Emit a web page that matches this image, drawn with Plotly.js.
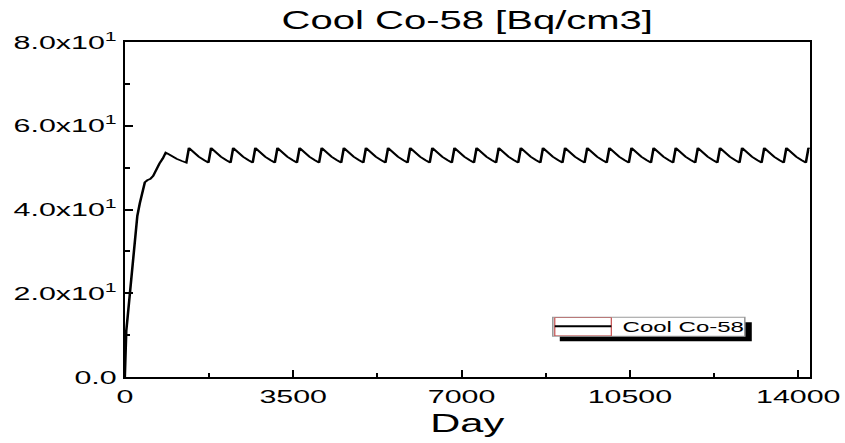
<!DOCTYPE html>
<html>
<head>
<meta charset="utf-8">
<script src="https://cdn.plot.ly/plotly-3.0.1.min.js"></script>
<style>
  html, body { margin: 0; padding: 0; background: #ffffff; overflow: hidden; }
  #wrap { width: 528px; height: 443px; transform: scaleX(1.6004); transform-origin: 0 0; }
  #chart { width: 528px; height: 443px; }
</style>
</head>
<body>
<div id="wrap"><div id="chart"></div></div>
<script>
// ---- data ----
const seriesName = "Cool Co-58";
const chartTitle = "Cool Co-58 [Bq/cm3]";
const xTitle = "Day";

const days = [
  0, 10, 30, 60, 104, 150, 208, 260, 312, 370, 416, 470, 530, 589, 650, 720, 790, 850, 900, 980, 1080, 1180,
  1278, 1333, 1428, 1538, 1648,
  1738, 1793, 1888, 1998, 2108,
  2198, 2253, 2348, 2458, 2568,
  2658, 2713, 2808, 2918, 3028,
  3118, 3173, 3268, 3378, 3488,
  3578, 3633, 3728, 3838, 3948,
  4038, 4093, 4188, 4298, 4408,
  4498, 4553, 4648, 4758, 4868,
  4958, 5013, 5108, 5218, 5328,
  5418, 5473, 5568, 5678, 5788,
  5878, 5933, 6028, 6138, 6248,
  6338, 6393, 6488, 6598, 6708,
  6798, 6853, 6948, 7058, 7168,
  7258, 7313, 7408, 7518, 7628,
  7718, 7773, 7868, 7978, 8088,
  8178, 8233, 8328, 8438, 8548,
  8638, 8693, 8788, 8898, 9008,
  9098, 9153, 9248, 9358, 9468,
  9558, 9613, 9708, 9818, 9928,
  10018, 10073, 10168, 10278, 10388,
  10478, 10533, 10628, 10738, 10848,
  10938, 10993, 11088, 11198, 11308,
  11398, 11453, 11548, 11658, 11768,
  11858, 11913, 12008, 12118, 12228,
  12318, 12373, 12468, 12578, 12688,
  12778, 12833, 12928, 13038, 13148,
  13238, 13293, 13388, 13498, 13608,
  13698, 13753, 13848, 13958, 14068,
  14158, 14213, 14240
];

const activity = [
  0, 7, 11, 14.5, 20, 26.5, 34.5, 38.5, 41.5, 44.5, 46.5, 47, 47.3, 48, 49.5, 51, 52.2, 53.6, 53.3, 52.7, 52.1, 51.6,
  51.2, 54.7, 53.6, 52.6, 51.8,
  51.2, 54.7, 53.6, 52.6, 51.8,
  51.2, 54.7, 53.6, 52.6, 51.8,
  51.2, 54.7, 53.6, 52.6, 51.8,
  51.2, 54.7, 53.6, 52.6, 51.8,
  51.2, 54.7, 53.6, 52.6, 51.8,
  51.2, 54.7, 53.6, 52.6, 51.8,
  51.2, 54.7, 53.6, 52.6, 51.8,
  51.2, 54.7, 53.6, 52.6, 51.8,
  51.2, 54.7, 53.6, 52.6, 51.8,
  51.2, 54.7, 53.6, 52.6, 51.8,
  51.2, 54.7, 53.6, 52.6, 51.8,
  51.2, 54.7, 53.6, 52.6, 51.8,
  51.2, 54.7, 53.6, 52.6, 51.8,
  51.2, 54.7, 53.6, 52.6, 51.8,
  51.2, 54.7, 53.6, 52.6, 51.8,
  51.2, 54.7, 53.6, 52.6, 51.8,
  51.2, 54.7, 53.6, 52.6, 51.8,
  51.2, 54.7, 53.6, 52.6, 51.8,
  51.2, 54.7, 53.6, 52.6, 51.8,
  51.2, 54.7, 53.6, 52.6, 51.8,
  51.2, 54.7, 53.6, 52.6, 51.8,
  51.2, 54.7, 53.6, 52.6, 51.8,
  51.2, 54.7, 53.6, 52.6, 51.8,
  51.2, 54.7, 53.6, 52.6, 51.8,
  51.2, 54.7, 53.6, 52.6, 51.8,
  51.2, 54.7, 53.6, 52.6, 51.8,
  51.2, 54.7, 53.6, 52.6, 51.8,
  51.2, 54.7, 54.4
];

const xTickVals = [0, 3500, 7000, 10500, 14000];
const xTickText = ["0", "3500", "7000", "10500", "14000"];
const yTickVals = [0, 20, 40, 60, 80];
const yTickText = ["0.0", "2.0x10<sup>1</sup>", "4.0x10<sup>1</sup>", "6.0x10<sup>1</sup>", "8.0x10<sup>1</sup>"];

// ---- chart ----
const FONT = "Liberation Sans, Arial, Helvetica, sans-serif";

const trace = {
  x: days,
  y: activity,
  type: "scatter",
  mode: "lines",
  name: seriesName,
  line: { color: "#000000", width: 1.6 },
  showlegend: false,
  hoverinfo: "x+y"
};

// legend drawn as a boxed key with a drop shadow (paper coordinates)
const shapes = [
  { type: "rect", xref: "paper", yref: "paper", x0: 0.635, x1: 0.9153, y0: 0.1067, y1: 0.1634,
    fillcolor: "#000000", line: { width: 0 }, layer: "above" },
  { type: "rect", xref: "paper", yref: "paper", x0: 0.6248, x1: 0.9051, y0: 0.1216, y1: 0.1784,
    fillcolor: "#ffffff", line: { color: "#9a9a9a", width: 1 }, layer: "above" },
  { type: "rect", xref: "paper", yref: "paper", x0: 0.6277, x1: 0.7102, y0: 0.1231, y1: 0.1769,
    fillcolor: "rgba(0,0,0,0)", line: { color: "#c04040", width: 0.7 }, layer: "above" },
  { type: "line", xref: "paper", yref: "paper", x0: 0.6277, x1: 0.7102, y0: 0.1515, y1: 0.1515,
    line: { color: "#000000", width: 2 }, layer: "above" }
];

const annotations = [
  { xref: "paper", yref: "paper", x: 0.7226, y: 0.1515, xanchor: "left", yanchor: "middle",
    text: seriesName, showarrow: false, font: { family: FONT, size: 15, color: "#000000" } }
];

const layout = {
  width: 528,
  height: 443,
  margin: { l: 78, r: 22, t: 42, b: 66, pad: 0 },
  paper_bgcolor: "#ffffff",
  plot_bgcolor: "#ffffff",
  font: { family: FONT, color: "#000000" },
  title: {
    text: chartTitle,
    font: { family: FONT, size: 25, color: "#000000" },
    xref: "paper", x: 0.5, xanchor: "center",
    yref: "container", y: 0.955, yanchor: "middle"
  },
  xaxis: {
    range: [0, 14240],
    tickmode: "array",
    tickvals: xTickVals,
    ticktext: xTickText,
    ticks: "inside",
    ticklen: 7,
    tickwidth: 1.25,
    tickcolor: "#000000",
    minor: { dtick: 1750, tick0: 0, ticks: "inside", ticklen: 4, tickwidth: 1.25, tickcolor: "#000000", showgrid: false },
    showline: true, linecolor: "#000000", linewidth: 2, mirror: true,
    showgrid: false, zeroline: false,
    tickfont: { family: FONT, size: 19, color: "#000000" },
    ticklabelstandoff: 1,
    title: { text: xTitle, font: { family: FONT, size: 26, color: "#000000" }, standoff: 8 }
  },
  yaxis: {
    range: [0, 80],
    tickmode: "array",
    tickvals: yTickVals,
    ticktext: yTickText,
    ticks: "inside",
    ticklen: 5,
    tickwidth: 2,
    tickcolor: "#000000",
    minor: { dtick: 10, tick0: 0, ticks: "inside", ticklen: 3, tickwidth: 2, tickcolor: "#000000", showgrid: false },
    showline: true, linecolor: "#000000", linewidth: 1.3, mirror: true,
    showgrid: false, zeroline: false,
    tickfont: { family: FONT, size: 19, color: "#000000" },
    ticklabelstandoff: 3.5
  },
  shapes: shapes,
  annotations: annotations,
  showlegend: false
};

Plotly.newPlot("chart", [trace], layout, { displayModeBar: false, staticPlot: true });
</script>
</body>
</html>
